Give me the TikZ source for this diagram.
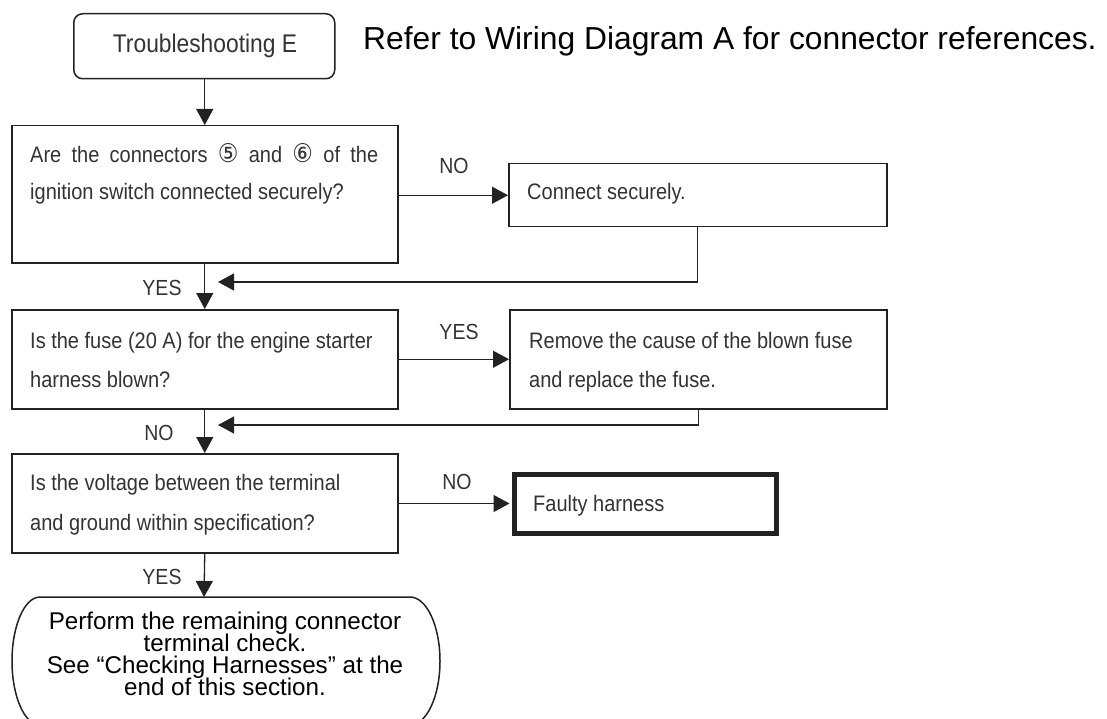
\documentclass[tikz,border=0pt]{standalone}
\usepackage{fontspec}
\usepackage{graphicx}
\setmainfont{Liberation Sans}
\newfontfamily\dv{DejaVu Sans}
\usetikzlibrary{arrows.meta}
\definecolor{ink}{HTML}{222222}
\definecolor{scan}{HTML}{333333}
\newcommand{\vst}[1]{\scalebox{1}[1.12]{#1}}
\newcommand{\cdig}[1]{{\dv\fontsize{23}{24}\selectfont #1}}
\begin{document}
\begin{tikzpicture}[x=1pt,y=-1pt,
  box/.style={draw=ink, line width=1.5pt, inner sep=0pt, anchor=north west},
  txt/.style={inner sep=0pt, anchor=base west, text=scan, font=\fontsize{20}{24}\selectfont},
  lbl/.style={inner sep=0pt, text=scan, font=\fontsize{19.5}{22}\selectfont},
  conn/.style={draw=ink, line width=1.3pt},
  arr/.style={conn, -{Triangle[length=16pt,width=17pt]}},
  term/.style={inner sep=0pt, anchor=base, font=\fontsize{24.2}{26}\selectfont}
]
\useasboundingbox (0,0) rectangle (1107,719);
\fill[white] (0,0) rectangle (1107,719);

% header
\node[inner sep=0pt, anchor=base west, font=\fontsize{31.8}{36}\selectfont] (hdr) at (363,50) {Refer to Wiring Diagram A for connector references.};

% start box
\node[box, rounded corners=9pt, minimum width=261pt, minimum height=65pt] (te) at (73,13) {};
\node[inner sep=0pt, anchor=base, text=scan, font=\fontsize{22.8}{26}\selectfont] (tet) at (205,53) {\vst{Troubleshooting E}};

% question 1
\node[box, minimum width=386pt, minimum height=137pt] (q1) at (11,125) {};
\node[txt] (q1a) at (30,163) {\vst{\makebox[348pt][s]{Are the connectors \cdig{⑤} and \cdig{⑥} of the}}};
\node[txt] (q1b) at (30,200) {\vst{ignition switch connected securely?}};

% connect securely
\node[box, minimum width=378pt, minimum height=63pt] (c1) at (508,163) {};
\node[txt] (c1t) at (527,200) {\vst{Connect securely.}};

% question 2
\node[box, minimum width=386pt, minimum height=99pt] (q2) at (11,309) {};
\node[txt] (q2a) at (30,348) {\vst{Is the fuse (20 A) for the engine starter}};
\node[txt] (q2b) at (30,387) {\vst{harness blown?}};

% remove
\node[box, minimum width=377pt, minimum height=99pt] (r2) at (509,309) {};
\node[txt] (r2a) at (529,348) {\vst{Remove the cause of the blown fuse}};
\node[txt] (r2b) at (529,387) {\vst{and replace the fuse.}};

% question 3
\node[box, minimum width=386pt, minimum height=99pt] (q3) at (11,453) {};
\node[txt] (q3a) at (30,490) {\vst{Is the voltage between the terminal}};
\node[txt] (q3b) at (30,530) {\vst{and ground within specification?}};

% faulty harness
\node[box, line width=5pt, minimum width=261.5pt, minimum height=59pt] (fh) at (512,471.5) {};
\node[txt] (fht) at (533,511) {\vst{Faulty harness}};

% terminal
\draw[ink, line width=1.5pt] (40,597) -- (410,597)
  arc[start angle=90, end angle=-90, x radius=30pt, y radius=64pt]
  -- (40,725)
  arc[start angle=270, end angle=90, x radius=28pt, y radius=64pt] -- cycle;
\coordinate (termtop) at (204,597);
\node[term] (t1) at (225,629) {Perform the remaining connector};
\node[term] (t2) at (225,651) {terminal check.};
\node[term] (t3) at (225,673) {See “Checking Harnesses” at the};
\node[term] (t4) at (225,695) {end of this section.};

% junctions
\coordinate (j1) at (218,282);
\coordinate (j2) at (218,425);

% connectors
\draw[arr] (q1.north |- te.south) -- (q1.north);
\draw[arr] (c1.west -| q1.east) -- (c1.west);
\draw[arr] (c1.south) |- (j1);
\draw[arr] (q1.south) -- (q2.north);
\draw[arr] (q2.east) -- (r2.west);
\draw[arr] (r2.south) |- (j2);
\draw[arr] (q2.south) -- (q3.north);
\draw[arr] (fh.west -| q3.east) -- ([xshift=-2.5pt]fh.west);
\draw[arr] (q3.south) -- (termtop);

% labels
\node[lbl] (l1) at (454,166) {\vst{NO}};
\node[lbl] (l2) at (162,288) {\vst{YES}};
\node[lbl] (l3) at (459,332) {\vst{YES}};
\node[lbl] (l4) at (159,433) {\vst{NO}};
\node[lbl] (l5) at (457,482) {\vst{NO}};
\node[lbl] (l6) at (162,577) {\vst{YES}};
\end{tikzpicture}
\end{document}
